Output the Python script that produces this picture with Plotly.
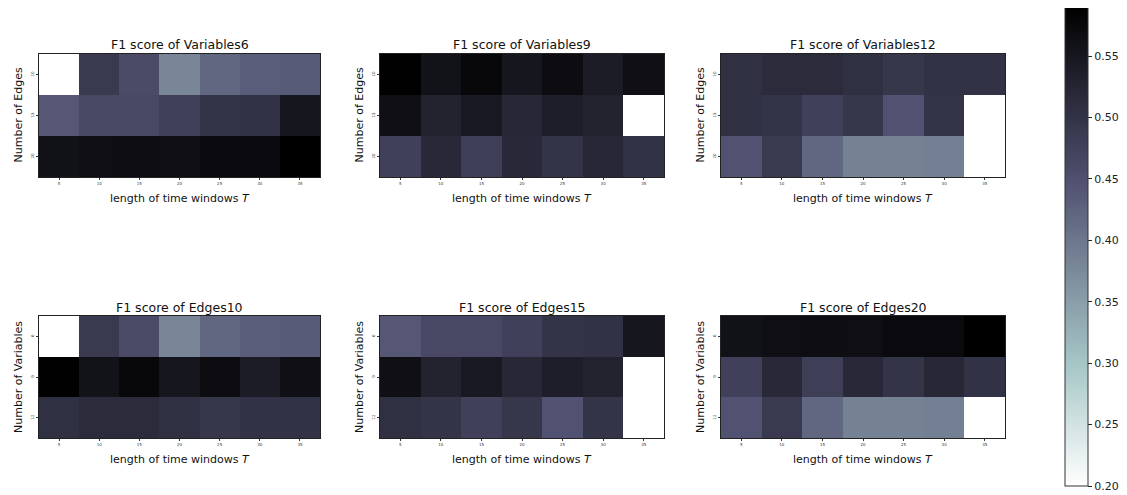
import plotly.graph_objects as go

# ---- data ----
T_values = [5, 10, 15, 20, 25, 30, 35]
edges_values = [10, 15, 20]
variables_values = [6, 9, 12]

# F1 score for each number of variables: rows = edges (10, 15, 20), cols = T
f1_variables6 = [
    [None, 0.489, 0.459, 0.380, 0.420, 0.433, 0.435],
    [0.440, 0.464, 0.463, 0.477, 0.499, 0.502, 0.551],
    [0.560, 0.565, 0.567, 0.565, 0.572, 0.572, 0.590],
]
f1_variables9 = [
    [0.588, 0.558, 0.576, 0.551, 0.569, 0.541, 0.564],
    [0.564, 0.529, 0.546, 0.522, 0.537, 0.529, None],
    [0.477, 0.520, 0.481, 0.520, 0.499, 0.522, 0.502],
]
f1_variables12 = [
    [0.506, 0.515, 0.515, 0.506, 0.494, 0.502, 0.502],
    [0.506, 0.499, 0.477, 0.494, 0.447, 0.499, None],
    [0.447, 0.489, 0.420, 0.386, 0.386, 0.388, None],
]

zmin, zmax = 0.20, 0.59
cb_ticks = [0.20, 0.25, 0.30, 0.35, 0.40, 0.45, 0.50, 0.55]

# ---- build per-panel matrices ----
by_vars = {6: f1_variables6, 9: f1_variables9, 12: f1_variables12}
panels = []
for v in variables_values:
    panels.append(("F1 score of Variables%d" % v, "Number of Edges", edges_values, by_vars[v]))
for ei, e in enumerate(edges_values):
    mat = [by_vars[v][ei] for v in variables_values]
    panels.append(("F1 score of Edges%d" % e, "Number of Variables", variables_values, mat))

# matplotlib bone_r colormap
bone_r = [
    [0.0, "rgb(255,255,255)"],
    [1 - 0.746032, "rgb(166,198,198)"],
    [1 - 0.365079, "rgb(81,81,113)"],
    [1.0, "rgb(0,0,0)"],
]

# page has an 8px body margin; work in screen pixels and convert
OFF = 8
W, H = 1127 - OFF, 495 - OFF


def px(x):
    return (x - OFF) / W


def py(y):
    return 1 - (y - OFF) / H


col_x = [(39, 320), (380, 664), (721, 1005)]
row_y = [(54, 177), (316, 438)]

fig = go.Figure()
FONT = "DejaVu Sans"
annotations = []
for i, (title, ytitle, yvals, mat) in enumerate(panels):
    r, c = divmod(i, 3)
    x0, x1 = col_x[c]
    y0, y1 = row_y[r]
    xa = "xaxis" if i == 0 else "xaxis%d" % (i + 1)
    ya = "yaxis" if i == 0 else "yaxis%d" % (i + 1)
    xref = "x" if i == 0 else "x%d" % (i + 1)
    yref = "y" if i == 0 else "y%d" % (i + 1)
    fig.add_trace(go.Heatmap(
        z=mat, x=T_values, y=yvals, xaxis=xref, yaxis=yref,
        colorscale=bone_r, zmin=zmin, zmax=zmax,
        showscale=(i == 0), hoverongaps=False,
        colorbar=dict(
            x=px(1065), xanchor="left", y=py(7), yanchor="top",
            xpad=0, ypad=0,
            lenmode="pixels", len=479, thickness=23, thicknessmode="pixels",
            outlinewidth=1, outlinecolor="#333333",
            tickvals=cb_ticks, ticktext=["%.2f" % t for t in cb_ticks],
            ticks="outside", ticklen=4, tickcolor="#222222",
            tickfont=dict(family=FONT, size=11, color="#222222"),
        ) if i == 0 else None,
    ))
    step = yvals[1] - yvals[0]
    fig.update_layout(**{
        xa: dict(domain=[px(x0), px(x1)], anchor=yref, range=[2.5, 37.5],
                 tickvals=T_values, ticktext=[str(t) for t in T_values],
                 tickfont=dict(family=FONT, size=4, color="#333333"),
                 ticks="outside", ticklen=2, tickcolor="#333333",
                 showline=True, linecolor="#222222", linewidth=1, mirror=True,
                 showgrid=False, zeroline=False, fixedrange=True, automargin=False),
        ya: dict(domain=[py(y1), py(y0)], anchor=xref,
                 range=[yvals[-1] + step / 2, yvals[0] - step / 2],
                 tickvals=yvals, ticktext=[str(t) for t in yvals], tickangle=-90,
                 tickfont=dict(family=FONT, size=4, color="#333333"),
                 ticks="outside", ticklen=2, tickcolor="#333333",
                 showline=True, linecolor="#222222", linewidth=1, mirror=True,
                 showgrid=False, zeroline=False, fixedrange=True, automargin=False),
    })
    cx = (x0 + x1) / 2
    annotations.append(dict(text=title, x=px(cx), y=py(y0 - 9),
                            xref="paper", yref="paper", xanchor="center", yanchor="middle",
                            showarrow=False, font=dict(family=FONT, size=12.5, color="#111111")))
    annotations.append(dict(text="length of time windows <i>T</i>", x=px(cx), y=py(y1 + 21),
                            xref="paper", yref="paper", xanchor="center", yanchor="middle",
                            showarrow=False, font=dict(family=FONT, size=11, color="#111111")))
    annotations.append(dict(text=ytitle, x=px(x0 - 21), y=py((y0 + y1) / 2),
                            xref="paper", yref="paper", xanchor="center", yanchor="middle",
                            textangle=-90, showarrow=False,
                            font=dict(family=FONT, size=11, color="#111111")))

fig.update_layout(
    width=W, height=H,
    margin=dict(l=0, r=0, t=0, b=0, autoexpand=False),
    paper_bgcolor="white", plot_bgcolor="white",
    annotations=annotations,
    font=dict(family=FONT),
)

fig.write_html("out.html")
